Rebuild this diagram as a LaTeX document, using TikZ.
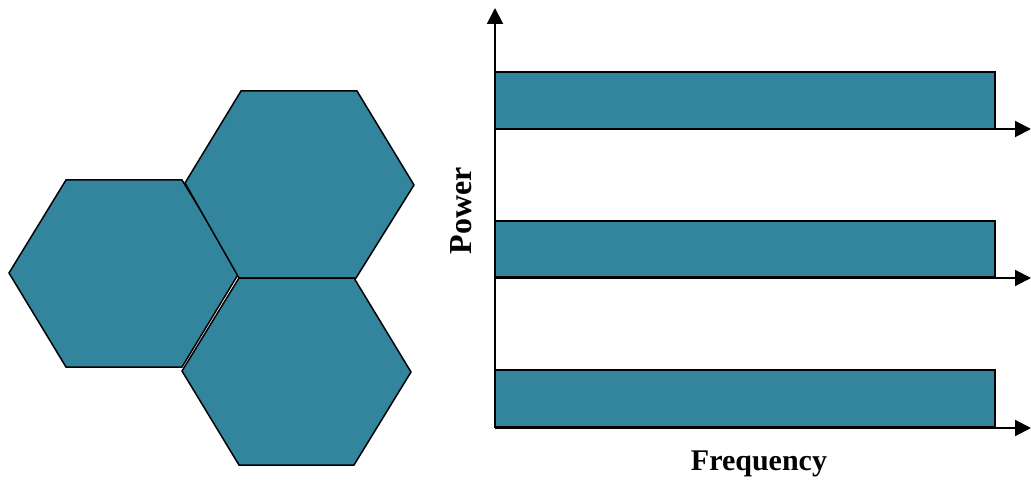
\documentclass[tikz,border=0pt]{standalone}
\usepackage{fontspec}
\setmainfont{Liberation Serif}
\usetikzlibrary{arrows.meta}
\definecolor{teal}{HTML}{33849D}
\tikzset{
  hexcell/.style={fill=teal,draw=black,line width=1.5pt,line join=miter},
  bar/.style={fill=teal,draw=black,line width=1.5pt},
  axis/.style={draw=black,line width=2pt,-{Triangle[length=16pt,width=16pt]}},
  lbl/.style={font=\bfseries,inner sep=0pt}
}
\begin{document}
\begin{tikzpicture}[x=1pt,y=-1pt]
\useasboundingbox (0,0) rectangle (1031,481);
% hexagons
\draw[hexcell] (66,180) -- (182,180) -- (239,273) -- (182,367) -- (66,367) -- (9,273) -- cycle;
\draw[hexcell] (241,91) -- (357,91) -- (414,185) -- (356,278) -- (239,278) -- (185,183) -- cycle;
\draw[hexcell] (239,278) -- (354,278) -- (411,372) -- (354,465) -- (239,465) -- (182,371) -- cycle;
% bars
\draw[bar] (495,72) rectangle (995,129);
\draw[bar] (495,221) rectangle (995,277);
\draw[bar] (495,370) rectangle (995,427);
% axes
\coordinate (o1) at (495,129);
\coordinate (e1) at (1031,129);
\coordinate (o2) at (495,278);
\coordinate (e2) at (1031,278);
\coordinate (o3) at (495,428);
\coordinate (e3) at (1031,428);
\coordinate (ytop) at (495,8);
\draw[axis] (o3) -- (ytop);
\draw[axis] (o1) -- (e1);
\draw[axis] (o2) -- (e2);
\draw[axis] (o3) -- (e3);
% labels
\node[lbl,rotate=90,font=\bfseries\fontsize{32}{36}\selectfont] (power) at (461,211) {Power};
\node[lbl,font=\bfseries\fontsize{30}{34}\selectfont] (freq) at (759,464) {Frequency};
\end{tikzpicture}
\end{document}
